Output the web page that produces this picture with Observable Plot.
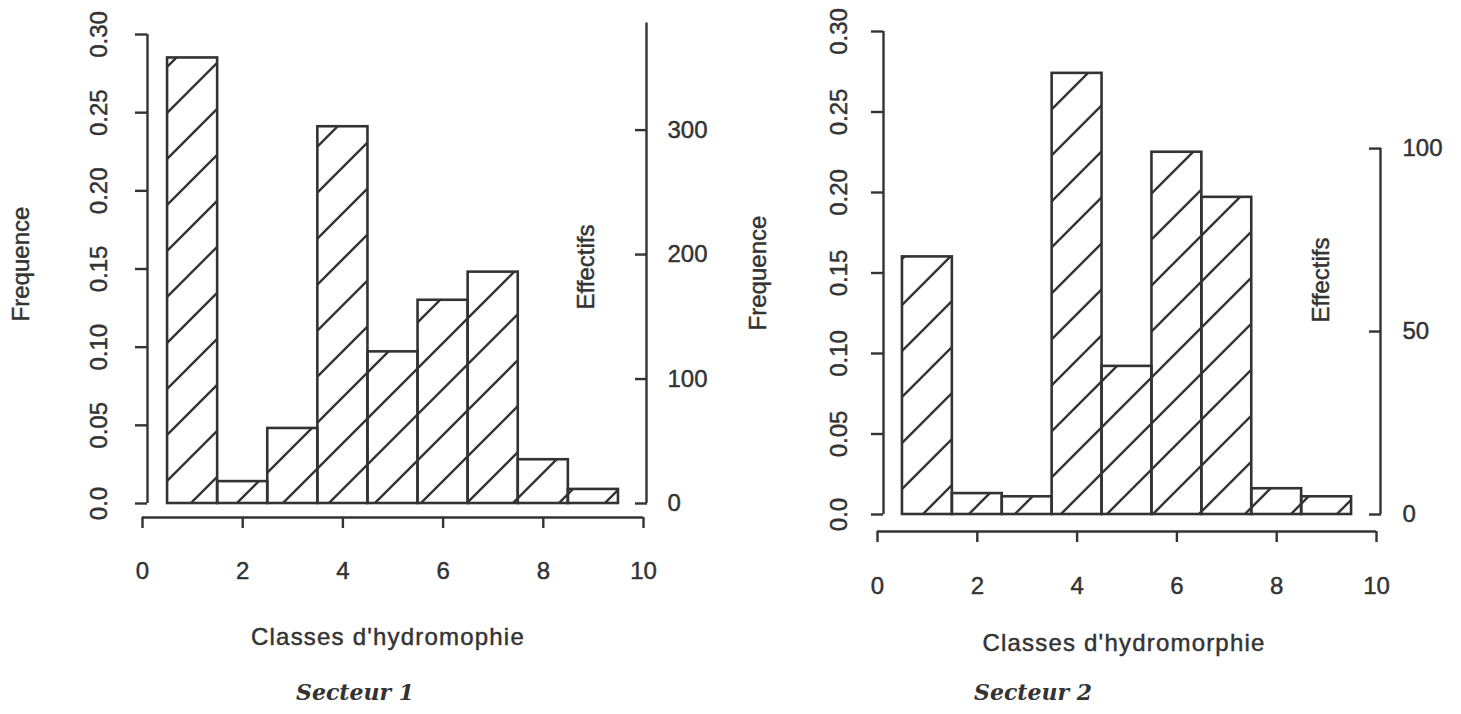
<!DOCTYPE html>
<html lang="fr">
<head>
<meta charset="utf-8">
<title>Classes d'hydromorphie – Secteurs 1 et 2</title>
<script src="https://cdn.jsdelivr.net/npm/d3@7"></script>
<script src="https://cdn.jsdelivr.net/npm/@observablehq/plot@0.6"></script>
<style>
  html, body { margin: 0; padding: 0; background: #fff; }
  #page { position: relative; width: 1461px; height: 714px; overflow: hidden; background: #fff; color: #333; }
  .panel { position: absolute; top: 0; }
  .panel svg text { stroke: #333; stroke-width: 0.45px; }
  .caption {
    position: absolute; white-space: nowrap; transform: translateX(-50%);
    font-family: "Liberation Sans", Arial, Helvetica, sans-serif; font-size: 24px; line-height: 24px;
    letter-spacing: 1.2px; color: #333; -webkit-text-stroke: 0.45px #333;
  }
  .sector {
    position: absolute; white-space: nowrap; transform: translateX(-50%);
    font-family: "DejaVu Serif", "Liberation Serif", serif; font-weight: bold; font-style: italic;
    font-size: 22px; line-height: 22px; color: #333;
  }
</style>
</head>
<body>
<div id="page">
  <div class="panel" id="p1" style="left:0px"></div>
  <div class="panel" id="p2" style="left:731px"></div>
  <div class="caption" style="left:388px; top:625px">Classes d'hydromophie</div>
  <div class="sector" style="left:355px; top:681px">Secteur 1</div>
  <div class="caption" style="left:1124px; top:631px">Classes d'hydromorphie</div>
  <div class="sector" style="left:1033px; top:681px">Secteur 2</div>
</div>
<script>
// Hydromorphy classes (histogram bins centred on 1..9)
const classes = [1, 2, 3, 4, 5, 6, 7, 8, 9];

// Relative frequency of each class
const freqSecteur1 = [0.285, 0.014, 0.048, 0.241, 0.097, 0.130, 0.148, 0.028, 0.009];
const freqSecteur2 = [0.160, 0.013, 0.011, 0.274, 0.092, 0.225, 0.197, 0.016, 0.011];

// Total counts, used for the secondary "Effectifs" axis
const totalSecteur1 = 1256;
const totalSecteur2 = 440;

// Axis ticks
const xTicks = [0, 2, 4, 6, 8, 10];
const freqTicks = [0, 0.05, 0.10, 0.15, 0.20, 0.25, 0.30];
const effTicks1 = [0, 100, 200, 300];
const effTicks2 = [0, 50, 100];
const effAxisTop1 = 386;
const effAxisTop2 = 100;

const INK = "#333";

function hatchDefs(svg, id, offset) {
  const defs = document.createElementNS("http://www.w3.org/2000/svg", "defs");
  defs.innerHTML =
    `<pattern id="${id}" patternUnits="userSpaceOnUse" width="46" height="46" x="${offset}" y="0">` +
    `<path d="M-4,4 L4,-4 M0,46 L46,0 M42,50 L50,42" stroke="${INK}" stroke-width="2.4" fill="none"/>` +
    `</pattern>`;
  svg.insertBefore(defs, svg.firstChild);
}

function histogram(cfg) {
  const data = classes.map((c, i) => ({x1: c - 0.5, x2: c + 0.5, freq: cfg.freq[i]}));
  const N = cfg.total;
  const svg = Plot.plot({
    width: cfg.width,
    height: 610,
    marginLeft: cfg.marginLeft,
    marginRight: cfg.marginRight,
    marginTop: cfg.marginTop,
    marginBottom: cfg.marginBottom,
    style: {
      background: "transparent",
      fontFamily: "'Liberation Sans', Arial, Helvetica, sans-serif",
      fontSize: "24px",
      color: INK,
      overflow: "visible"
    },
    x: {domain: [0, 10]},
    y: {domain: [0, 0.30]},
    marks: [
      // bars
      Plot.rect(data, {
        x1: "x1", x2: "x2", y1: () => 0, y2: "freq",
        fill: `url(#${cfg.hatchId})`, stroke: INK, strokeWidth: 2.6
      }),
      // left axis (Frequence)
      Plot.ruleX([0], {y1: 0, y2: 0.30, dx: cfg.leftDx, stroke: INK, strokeWidth: 2.4}),
      Plot.axisY({
        anchor: "left", ticks: freqTicks, label: null,
        tickFormat: (d) => (d === 0 ? "0.0" : d.toFixed(2)),
        tickRotate: -90, tickSize: 12, tickPadding: cfg.leftPad, dx: cfg.leftDx,
        strokeWidth: 2.4, stroke: INK
      }),
      // bottom axis
      Plot.ruleY([0], {x1: 0, x2: 10, dy: cfg.bottomDy, stroke: INK, strokeWidth: 2.4}),
      Plot.axisX({
        ticks: xTicks, label: null, tickFormat: (d) => String(d),
        tickSize: 11, tickPadding: cfg.bottomPad, dy: cfg.bottomDy,
        strokeWidth: 2.4, stroke: INK
      }),
      // right axis (Effectifs)
      Plot.ruleX([10], {y1: 0, y2: cfg.effTop / N, dx: cfg.rightDx, stroke: INK, strokeWidth: 2.4}),
      Plot.axisY({
        anchor: "right", ticks: cfg.effTicks.map((v) => v / N), label: null,
        tickFormat: (d) => String(Math.round(d * N)),
        tickSize: 12, tickPadding: cfg.rightPad, dx: cfg.rightDx - 12,
        strokeWidth: 2.4, stroke: INK
      }),
      // axis titles
      Plot.text(["Frequence"], {
        frameAnchor: "left", textAnchor: "middle", lineAnchor: "middle", rotate: -90,
        dx: cfg.freqLabel[0], dy: cfg.freqLabel[1], fontSize: 24, fill: INK
      }),
      Plot.text(["Effectifs"], {
        frameAnchor: "right", textAnchor: "middle", lineAnchor: "middle", rotate: -90,
        dx: cfg.effLabel[0], dy: cfg.effLabel[1], fontSize: 24, fill: INK
      })
    ]
  });
  hatchDefs(svg, cfg.hatchId, cfg.hatchOffset);
  return svg;
}

document.getElementById("p1").appendChild(histogram({
  freq: freqSecteur1, total: totalSecteur1, effTicks: effTicks1, effTop: effAxisTop1,
  width: 731, marginLeft: 142, marginRight: 88, marginTop: 34, marginBottom: 107,
  leftDx: 5, leftPad: 29, bottomDy: 14, bottomPad: 33, rightDx: 3, rightPad: 21,
  freqLabel: [-121, -5], effLabel: [-57, -2],
  hatchId: "hatch-s1", hatchOffset: 4
}));

document.getElementById("p2").appendChild(histogram({
  freq: freqSecteur2, total: totalSecteur2, effTicks: effTicks2, effTop: effAxisTop2,
  width: 730, marginLeft: 146, marginRight: 85, marginTop: 31, marginBottom: 96,
  leftDx: 6, leftPad: 25, bottomDy: 17, bottomPad: 34, rightDx: 4, rightPad: 22,
  freqLabel: [-119, 0], effLabel: [-55, 7],
  hatchId: "hatch-s2", hatchOffset: 16
}));
</script>
</body>
</html>
